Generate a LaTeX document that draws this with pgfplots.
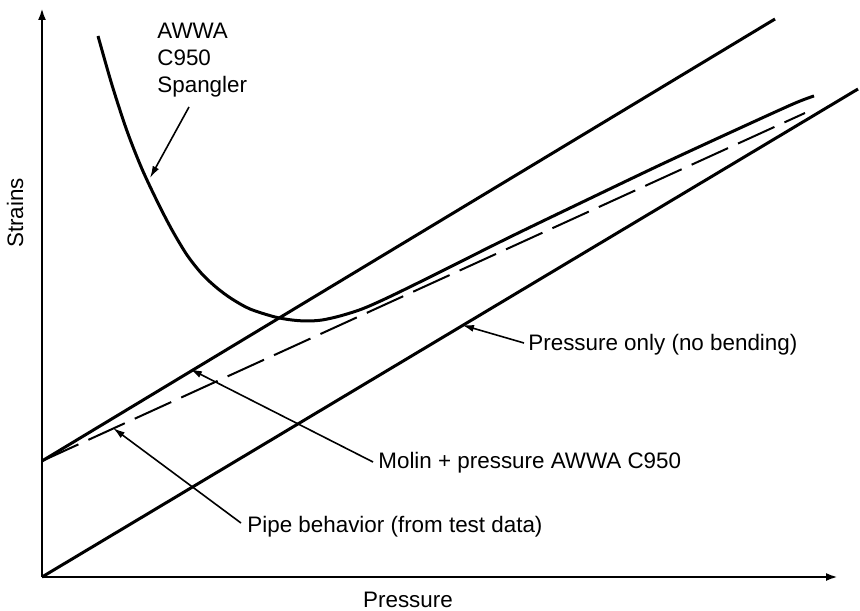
\documentclass[border=0pt]{standalone}
\usepackage{pgfplots}
\pgfplotsset{compat=1.18}
\usepackage{fontspec}
\setmainfont{Liberation Sans}
\usetikzlibrary{arrows.meta}

% pixel-based coordinates: x = px - 42, y = 577 - py
\pgfplotstableread{
x y
56 541
70 492
85 446
100 408
116 374
130 347
145 322
160 303
175 289
190 278
208 268
233 260
250 257
265 256
280 257
298 261
320 268
345 279
388 300
468 340
551 380
618 412
685 443
751 473
772 481
}\spangler

\begin{document}
\begin{tikzpicture}[font=\fontsize{11.2}{13.5}\selectfont,
  lead/.style={line width=0.8pt, -{Latex[length=6pt,width=3.5pt]}}]
\begin{axis}[
    x=0.5pt, y=0.5pt,
    xmin=0, xmax=796, ymin=0, ymax=569,
    axis lines=left,
    axis line style={line width=1.2pt, -{Latex[length=6pt,width=4pt]}},
    ticks=none,
    clip=false,
]
% pressure only
\addplot[black, line width=1.5pt] coordinates {(0,0) (816,488)};
% Molin + pressure AWWA C950
\addplot[black, line width=1.5pt] coordinates {(0,116) (733,558)};
% pipe behavior (test data)
\addplot[black, line width=1pt, dash pattern=on 20pt off 5.5pt] coordinates {(0,116) (763,464)};
% AWWA C950 Spangler
\addplot[black, line width=1.5pt, smooth] table {\spangler};

\node[anchor=north west, align=left, inner sep=0pt] at (axis cs:115,554) {AWWA\\C950\\Spangler};
\draw[lead] (axis cs:147,470) -- (axis cs:108,399);

\node[anchor=west, inner sep=1pt] at (axis cs:484,232) {Pressure only (no bending)};
\draw[lead] (axis cs:482,234) -- (axis cs:420,252);

\node[anchor=west, inner sep=1pt] at (axis cs:334,114) {Molin + pressure AWWA C950};
\draw[lead] (axis cs:331,115) -- (axis cs:148,208);

\node[anchor=west, inner sep=1pt] at (axis cs:203,50) {Pipe behavior (from test data)};
\draw[lead] (axis cs:199,54) -- (axis cs:71,149);

\node[rotate=90] at (axis cs:-27,364) {Strains};
\node at (axis cs:366,-23) {Pressure};

\coordinate (bl) at (axis cs:-42,-33);
\coordinate (tr) at (axis cs:818,577);
\end{axis}
\pgfresetboundingbox
\path[use as bounding box] (bl) rectangle (tr);
\end{tikzpicture}
\end{document}
